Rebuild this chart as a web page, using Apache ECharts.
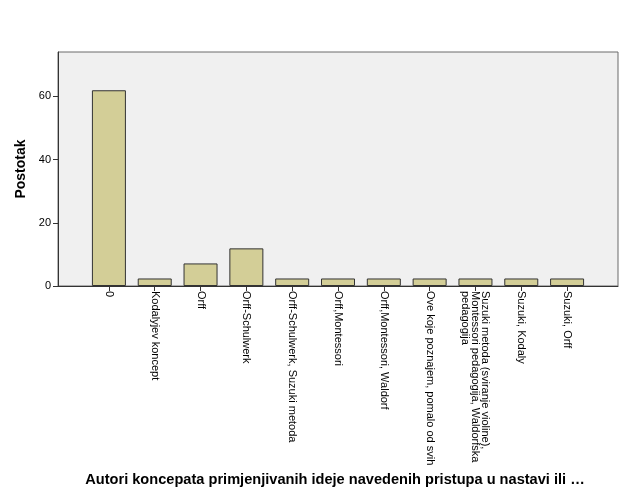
<!DOCTYPE html>
<html><head><meta charset="utf-8">
<script src="https://cdn.jsdelivr.net/npm/echarts@6/dist/echarts.min.js"></script>
<style>html,body{margin:0;padding:0;background:#fff}#c{width:626px;height:501px}</style>
</head><body><div id="c"></div>
<script>
const categories = ["0","Kodalyjev koncept","Orff","Orff-Schulwerk","Orff-Schulwerk, Suzuki metoda","Orff,Montessori","Orff,Montessori, Waldorf","Ove koje poznajem, pomalo od svih","Suzuki metoda (sviranje violine),\nMontessori pedagogija, Waldorfska\npedagogija","Suzuki, Kodaly","Suzuki, Orff"];
const values = [61.9, 2.38, 7.14, 11.9, 2.38, 2.38, 2.38, 2.38, 2.38, 2.38, 2.38];
const yTicks = [0, 20, 40, 60];
const yTitle = "Postotak";
const xTitle = "Autori koncepata primjenjivanih ideje navedenih pristupa u nastavi ili …";

const chart = echarts.init(document.getElementById('c'), null, {renderer:'canvas'});
const font = 'Liberation Sans, Arial, sans-serif';
const G = {top:52, bottom:215};
chart.setOption({
  animation:false,
  grid:[
    {left:58, right:8, top:G.top, bottom:G.bottom, show:true, backgroundColor:'#f0f0f0', borderColor:'#6a6a6a', borderWidth:1},
    {left:86, right:36, top:G.top, bottom:G.bottom}
  ],
  xAxis:[
    {gridIndex:0, type:'value', min:0, max:1, axisLine:{show:true, onZero:false, lineStyle:{color:'#333', width:1}}, axisTick:{show:false}, axisLabel:{show:false}, splitLine:{show:false}},
    {gridIndex:1, type:'category', data:categories, axisLine:{show:false}, axisTick:{show:true, alignWithLabel:true, length:5, lineStyle:{color:'#333'}},
      axisLabel:{rotate:-90, interval:0, margin:5, fontFamily:font, fontSize:11, color:'#000', lineHeight:10},
      name:xTitle, nameLocation:'middle', nameGap:186, nameTextStyle:{fontFamily:font, fontSize:14.6, fontWeight:'bold', color:'#000', padding:[0,6,0,0]}}
  ],
  yAxis:[
    {gridIndex:0, type:'value', min:0, max:74,
      axisLine:{show:true, lineStyle:{color:'#333'}},
      axisTick:{show:true, length:5, lineStyle:{color:'#333'}, customValues: yTicks},
      axisLabel:{fontFamily:font, fontSize:11, color:'#000', margin:7, customValues: yTicks},
      splitLine:{show:false},
      name:yTitle, nameLocation:'middle', nameGap:26, nameTextStyle:{fontFamily:font, fontSize:14, fontWeight:'bold', color:'#000'}},
    {gridIndex:1, type:'value', min:0, max:74, show:false, splitLine:{show:false}}
  ],
  series:[{type:'bar', xAxisIndex:1, yAxisIndex:1, data:values, barWidth:34,
    itemStyle:{color:'#d3ce97', borderColor:'#333', borderWidth:1}}]
});
</script></body></html>
